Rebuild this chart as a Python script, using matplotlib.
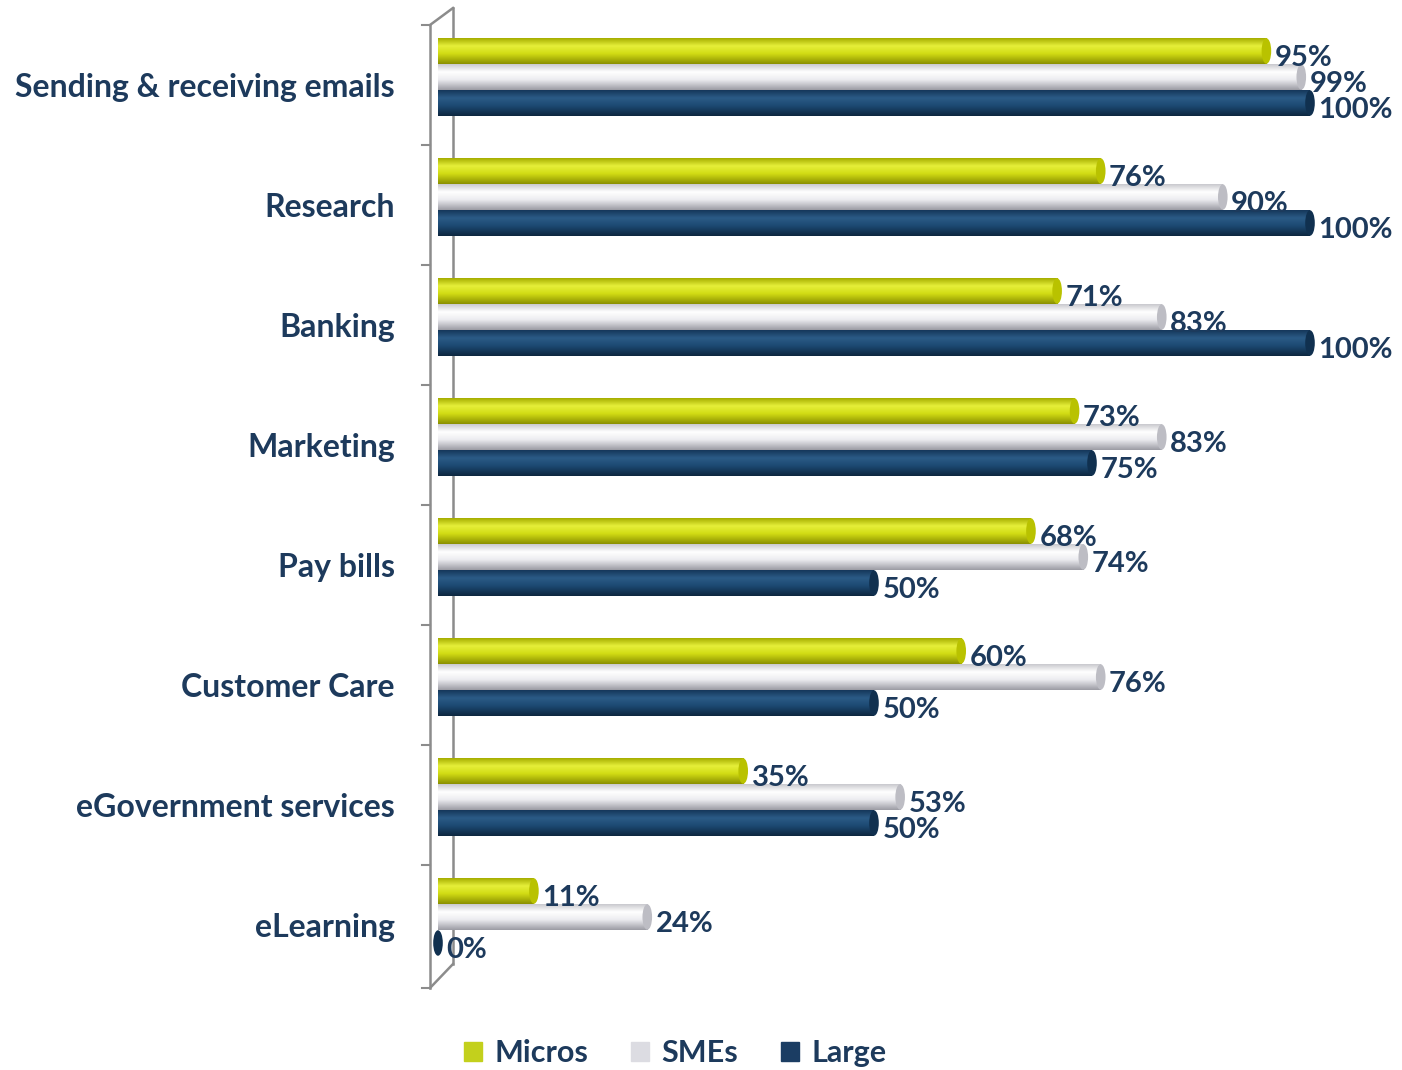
import numpy as np
import matplotlib
matplotlib.use("Agg")
import matplotlib.pyplot as plt
import matplotlib.patches as mpatches
from matplotlib.colors import to_rgb
from matplotlib.lines import Line2D

plt.rcParams['font.family'] = ['Lato', 'DejaVu Sans']
plt.rcParams['font.weight'] = 'bold'

categories = ["Sending & receiving emails", "Research", "Banking", "Marketing",
              "Pay bills", "Customer Care", "eGovernment services", "eLearning"]
micros = [95, 76, 71, 73, 68, 60, 35, 11]
smes = [99, 90, 83, 83, 74, 76, 53, 24]
large = [100, 100, 100, 75, 50, 50, 50, 0]
series_names = ["Micros", "SMEs", "Large"]

text_col = "#1d3a5c"
# top edge, highlight, mid, bottom edge, end cap
shades = {
    "Micros": ["#a6ae00", "#e6ef3a", "#d2dc14", "#8a9000", "#b9c200"],
    "SMEs":   ["#c9c9ce", "#ffffff", "#ececf0", "#9c9ca4", "#bdbdc4"],
    "Large":  ["#15375a", "#2b5b86", "#1d4a73", "#0d2740", "#10304f"],
}
legend_cols = {"Micros": "#c3d01c", "SMEs": "#dcdce2", "Large": "#1b3d63"}


def cylinder_fill(ax, patch, cols):
    x, y = patch.get_x(), patch.get_y()
    w, h = patch.get_width(), patch.get_height()
    stops = [to_rgb(c) for c in cols[:4]]
    pos = [0.0, 0.3, 0.6, 1.0]
    t = np.linspace(0, 1, 64)
    grad = np.stack([np.interp(t, pos, [s[i] for s in stops]) for i in range(3)], axis=-1)
    grad = grad[:, None, :]
    if w > 0:
        im = ax.imshow(grad, extent=(x, x + w, y + h, y), origin="upper",
                       aspect="auto", interpolation="bilinear", zorder=2)
        im.set_clip_path(patch)
    cap = mpatches.Ellipse((x + w, y + h / 2), 1.1, h * 0.98, facecolor=cols[4],
                           edgecolor="none", zorder=3, clip_on=False)
    ax.add_patch(cap)


fig = plt.figure(figsize=(14.02, 10.70), dpi=100)
ax = fig.add_axes([438 / 1402, 1 - 985 / 1070, 872 / 1402, 960 / 1070])

ypos = np.arange(len(categories))
bh = 26 / 120
shift = -8 / 120
for k, (name, vals) in enumerate(zip(series_names, [micros, smes, large])):
    yy = ypos + shift + (k - 1) * bh
    bars = ax.barh(yy, vals, height=bh, facecolor="none", edgecolor="none", zorder=2)
    for rect, v in zip(bars, vals):
        cylinder_fill(ax, rect, shades[name])
        ax.annotate(f"{v}%", (v, rect.get_y() + bh / 2), xytext=(6, -5),
                    textcoords="offset points", ha="left", va="center",
                    fontsize=21, color=text_col, zorder=5, annotation_clip=False)

ax.set_xlim(0, 100)
ax.set_ylim(7.5, -0.5)
ax.set_yticks(ypos)
ax.set_yticklabels(categories, fontsize=23, color=text_col, fontweight="bold")
ax.tick_params(axis="y", length=0, pad=31)
ax.set_xticks([])
for s in ax.spines.values():
    s.set_visible(False)

# side wall with tick marks
lw_col = "#8c8c8c"
x_front = (430 - 438) / 872
x_back = (453 - 438) / 872
y_top_back = (985 - 8) / 960
y_bot_back = (985 - 964) / 960
y_bot_front = (985 - 988) / 960
wall = [
    ([x_front, x_front], [1.0, y_bot_front]),
    ([x_back, x_back], [y_top_back, y_bot_back]),
    ([x_front, x_back], [1.0, y_top_back]),
    ([x_front, x_back], [y_bot_front, y_bot_back]),
]
for xs, ys in wall:
    ax.add_line(Line2D(xs, ys, transform=ax.transAxes, color=lw_col, lw=1.8,
                       clip_on=False, zorder=1))
for k in range(len(categories) + 1):
    yk = 1 - k / len(categories)
    if k == len(categories):
        yk = y_bot_front
    ax.add_line(Line2D([(422 - 438) / 872, x_front], [yk, yk], transform=ax.transAxes,
                       color=lw_col, lw=1.5, clip_on=False, zorder=1))

handles = [mpatches.Patch(color=legend_cols[n], label=n) for n in series_names]
fig.legend(handles=handles, loc="center", bbox_to_anchor=(675 / 1402, 1 - 1053 / 1070),
           ncol=3, frameon=False, prop={"size": 22, "weight": "bold"},
           handlelength=0.6, handleheight=0.6, handletextpad=0.4, columnspacing=1.4,
           labelcolor=text_col)

fig.savefig("out.png", dpi=100, facecolor="white")
